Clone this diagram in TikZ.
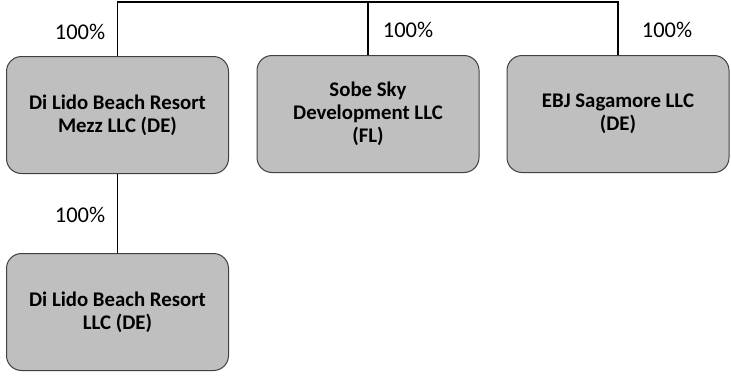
\documentclass[tikz,border=0pt]{standalone}
\usepackage{fontspec}
\setmainfont{Carlito}
\usetikzlibrary{calc}
\definecolor{boxgray}{HTML}{BFBFBF}
\definecolor{edgegray}{HTML}{404040}
\def\entitynode{\node[entity]}
\def\sharenode{\node[share]}

\begin{document}
\begin{tikzpicture}[x=1pt,y=-1pt,
  entity/.style={rectangle,rounded corners=15pt,draw=edgegray,line width=1pt,fill=boxgray,
    minimum width=222pt,minimum height=117pt,align=center,
    font=\fontsize{20.8}{23}\selectfont\bfseries},
  share/.style={font=\fontsize{22.5}{26}\selectfont,inner sep=0pt},
  link/.style={line width=1.5pt}]
\useasboundingbox (0,0) rectangle (731,376);
\entitynode (mezz) at (117.5,115) {Di Lido Beach Resort\\Mezz LLC (DE)};
\entitynode (sobe) at (368,114) {Sobe Sky\\Development LLC\\(FL)};
\entitynode (ebj) at (618,114) {EBJ Sagamore LLC\\(DE)};
\entitynode (dilido) at (117.5,312) {Di Lido Beach Resort\\LLC (DE)};
\coordinate (topl) at ($(mezz.north)+(0,-54)$);
\coordinate (topm) at ($(sobe.north)+(0,-53)$);
\coordinate (topr) at ($(ebj.north)+(0,-53)$);
\sharenode (pmezz) at (80,32) {100\%};
\sharenode (psobe) at (408,30) {100\%};
\sharenode (pebj) at (667,30) {100\%};
\sharenode (pdilido) at (80,215) {100\%};
\draw[link] (mezz.north) -- (topl) -- (topr) -- (ebj.north);
\draw[link] (topm) -- (sobe.north);
\draw[link] (mezz.south) -- (dilido.north);
\end{tikzpicture}
\end{document}
